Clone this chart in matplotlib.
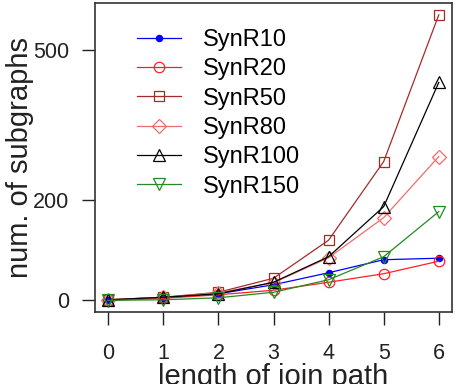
import matplotlib
matplotlib.use("Agg")
import matplotlib.pyplot as plt

plt.rcParams["font.family"] = ["Liberation Sans", "DejaVu Sans"]

# ---- data ----
path_len = [0, 1, 2, 3, 4, 5, 6]
syn_r10 = [0, 5, 13, 31, 55, 81, 84]
syn_r20 = [0, 4, 11, 20, 36, 53, 78]
syn_r50 = [1, 6, 16, 44, 120, 277, 570]
syn_r80 = [1, 6, 15, 35, 85, 165, 287]
syn_r100 = [1, 6, 13, 36, 87, 187, 435]
syn_r150 = [0, 1, 5, 16, 41, 87, 177]

y_ticks = [0, 200, 500]

series = [
    ("SynR10", syn_r10, "#0000FF", "o", 4.5, True),
    ("SynR20", syn_r20, "#FF2020", "o", 7.5, False),
    ("SynR50", syn_r50, "#A52A2A", "s", 7.0, False),
    ("SynR80", syn_r80, "#F26B6B", "D", 7.0, False),
    ("SynR100", syn_r100, "#000000", "^", 8.5, False),
    ("SynR150", syn_r150, "#228B22", "v", 8.5, False),
]

fig = plt.figure(figsize=(4.56, 3.84), dpi=100)
ax = fig.add_axes([95 / 456, 1 - 311.7 / 384, (452 - 95) / 456, (311.7 - 3.3) / 384])

for name, vals, col, mk, ms, filled in series:
    ax.plot(path_len, vals, color=col, lw=0.9, marker=mk, markersize=ms,
            markerfacecolor=col if filled else "none", markeredgecolor=col,
            markeredgewidth=0.9, label=name)

ax.set_xlim(-0.24, 6.24)
ax.set_ylim(-22.8, 593)
ax.set_xticks(path_len)
ax.set_yticks(y_ticks)
ax.tick_params(axis="both", direction="out", length=9.5, width=1.0,
               color="#222222", labelsize=15.5, labelcolor="#222222")
ax.tick_params(axis="x", pad=13)
ax.tick_params(axis="y", pad=9)
for sp in ax.spines.values():
    sp.set_color("#333333")
    sp.set_linewidth(1.2)

# x label is partly cut by the bottom edge, as in the original
fig.text(273.5 / 456, 1 - 363 / 384, "length of join path", fontsize=21,
         ha="center", va="top", color="#222222")
fig.text(6 / 456, 1 - 157.5 / 384, "num. of subgraphs", fontsize=21,
         rotation=90, ha="left", va="center", color="#222222")

ax.legend(loc="upper left", bbox_to_anchor=(137 / 456, 1 - 29 / 384),
          bbox_transform=fig.transFigure, frameon=False, fontsize=17,
          borderpad=0, borderaxespad=0, handlelength=1.85,
          handletextpad=0.95, labelspacing=0.31)

fig.savefig("out.png", dpi=100)
